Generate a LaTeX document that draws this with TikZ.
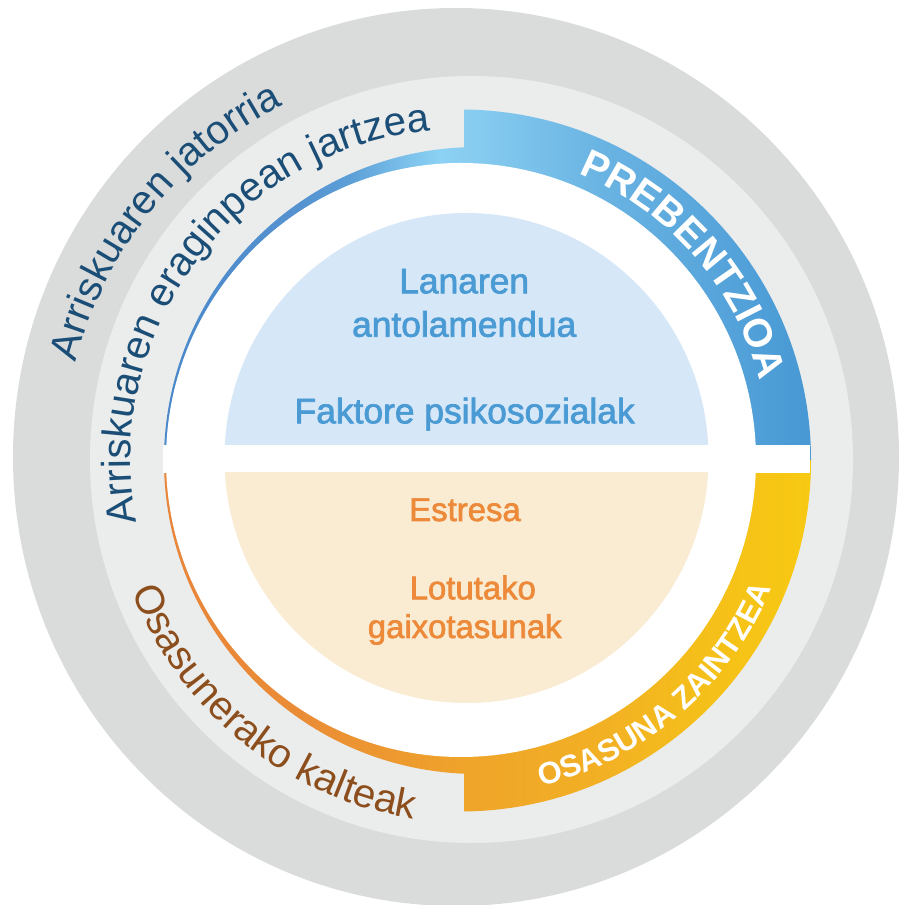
\documentclass[tikz,border=0pt]{standalone}
\usepackage{fontspec}
\setmainfont{Liberation Sans}
\newfontfamily\sansf{Liberation Sans}
\newfontfamily\medf{Liberation Sans}[FakeBold=2]
\usetikzlibrary{decorations.text,calc}

\definecolor{ringdark}{HTML}{DADBDB}
\definecolor{ringlight}{HTML}{EBECEC}
\definecolor{discblue}{HTML}{D6E7F7}
\definecolor{discorange}{HTML}{FAEBD3}
\definecolor{innerblue}{HTML}{4A9AD4}
\definecolor{innerorange}{HTML}{EC8A3A}
\definecolor{navy}{HTML}{1B4E77}
\definecolor{brown}{HTML}{8C4E1C}
% blue band stops
\definecolor{bA}{HTML}{4A88CA}
\definecolor{bB}{HTML}{5592D0}
\definecolor{bC}{HTML}{5C9FD7}
\definecolor{bD}{HTML}{78BDE9}
\definecolor{bE}{HTML}{8CD2F4}
\definecolor{bF}{HTML}{89CEF1}
\definecolor{bG}{HTML}{6AB4E3}
\definecolor{bH}{HTML}{4798D4}
% orange band stops
\definecolor{oA}{HTML}{E8853A}
\definecolor{oB}{HTML}{EA8C36}
\definecolor{oC}{HTML}{ED9A2F}
\definecolor{oD}{HTML}{EFA42A}
\definecolor{oE}{HTML}{F2B024}
\definecolor{oF}{HTML}{F5BF1A}
\definecolor{oG}{HTML}{F7C913}

% x = 109 .. 811 is mapped onto 25bp .. 75bp
\pgfdeclarehorizontalshading{blueband}{100bp}{color(0bp)=(bA); color(28.99bp)=(bA); color(38.6bp)=(bB); color(42.17bp)=(bC); color(45.73bp)=(bD); color(48.58bp)=(bE); color(50.28bp)=(bF); color(59.97bp)=(bG); color(74.93bp)=(bH); color(100bp)=(bH)}
\pgfdeclarehorizontalshading{orangeband}{100bp}{color(0bp)=(oA); color(28.99bp)=(oA); color(38.6bp)=(oB); color(45.73bp)=(oC); color(50.28bp)=(oD); color(59.97bp)=(oE); color(67.1bp)=(oF); color(74.93bp)=(oG); color(100bp)=(oG)}

\newcommand\curvef{\sansf\fontsize{40.5}{40.5}\selectfont}
\newcommand\bigcapsf{\sansf\bfseries\fontsize{40}{40}\selectfont}
\newcommand\smallcapsf{\sansf\bfseries\fontsize{31}{31}\selectfont}

\tikzset{
  bluetext/.style={font=\medf\fontsize{35.5}{36}\selectfont, text=innerblue, anchor=base, inner sep=0pt},
  orangetext/.style={font=\medf\fontsize{33}{34}\selectfont, text=innerorange, anchor=base, inner sep=0pt},
}

\begin{document}
\begin{tikzpicture}[x=1bp,y=1bp]
\useasboundingbox (0,0) rectangle (901,905);
\coordinate (C) at (461,445);
\coordinate (Cb) at (471.5,445.5);

% outer rings
\fill[ringdark] (456,448) ellipse[x radius=443bp, y radius=449bp];
\fill[ringlight] (471.5,445.5) ellipse[x radius=381.5bp, y radius=383.5bp];

% upper coloured band
\begin{scope}
  \clip (0,444.5) rectangle (901,905);
  \begin{scope}
    \clip (477.5,444.5) circle[radius=313.5bp];
    \shade[shading=blueband] (109,0) rectangle (811,905);
  \end{scope}
  \begin{scope}
    \clip (464,0) rectangle (901,905);
    \clip (460,444.5) circle[radius=351bp];
    \shade[shading=blueband] (109,0) rectangle (811,905);
  \end{scope}
\end{scope}

% lower coloured band
\begin{scope}
  \clip (0,0) rectangle (901,444.5);
  \begin{scope}
    \clip (477.5,444.5) circle[radius=313.5bp];
    \shade[shading=orangeband] (109,0) rectangle (811,905);
  \end{scope}
  \begin{scope}
    \clip (464,0) rectangle (901,905);
    \clip (460,444.5) circle[radius=351bp];
    \shade[shading=orangeband] (109,0) rectangle (811,905);
  \end{scope}
\end{scope}

% white centre and horizontal gap
\fill[white] (461,445) ellipse[x radius=295bp, y radius=297bp];
\fill[white] (163,432) rectangle (810,460);

% inner half discs
\begin{scope}
  \clip (0,460) rectangle (901,905);
  \fill[discblue] (466.5,447) ellipse[x radius=242bp, y radius=245bp];
\end{scope}
\begin{scope}
  \clip (0,0) rectangle (901,432);
  \fill[discorange] (466.5,447) ellipse[x radius=242bp, y radius=245bp];
\end{scope}

% inner labels
\node[bluetext] (lanaren) at (464.2,611.7) {Lanaren};
\node[bluetext] (antolamendua) at (464.2,568.3) {antolamendua};
\node[bluetext] (faktore) at (464.7,481.7) {Faktore psikosozialak};
\node[orangetext] (estresa) at (465,384) {Estresa};
\node[orangetext] (lotutako) at (472.8,305.7) {Lotutako};
\node[orangetext] (gaixotasunak) at (464.7,267) {gaixotasunak};

% curved labels
\path[decorate, decoration={text along path, text align=center, text color=navy,
  text={|\curvef|Arriskuaren jatorria}}]
  ($(C)+(181.2:397bp)$) arc[start angle=181.2, end angle=101.2, radius=397bp];
\path[decorate, decoration={text along path, text align=center, text color=navy,
  text={|\curvef|Arriskuaren eraginpean jartzea}}]
  ($(C)+(203:330.5bp)$) arc[start angle=203, end angle=83, radius=330.5bp];
\path[decorate, decoration={text along path, text align=center, text color=brown,
  text={|\curvef|Osasunerako kalteak}}]
  ($(Cb)+(191:364bp)$) arc[start angle=191, end angle=271, radius=364bp];
\path[decorate, decoration={text along path, text align=center, text color=white,
  text={|\bigcapsf|PREBENTZIOA}}]
  ($(C)+(81.3:309.5bp)$) arc[start angle=81.3, end angle=1.3, radius=309.5bp];
\path[decorate, decoration={text along path, text align=center, text color=white,
  text={|\smallcapsf|OSASUNA ZAINTZEA}}]
  ($(C)+(270.7:336bp)$) arc[start angle=270.7, end angle=350.7, radius=336bp];
\end{tikzpicture}
\end{document}
